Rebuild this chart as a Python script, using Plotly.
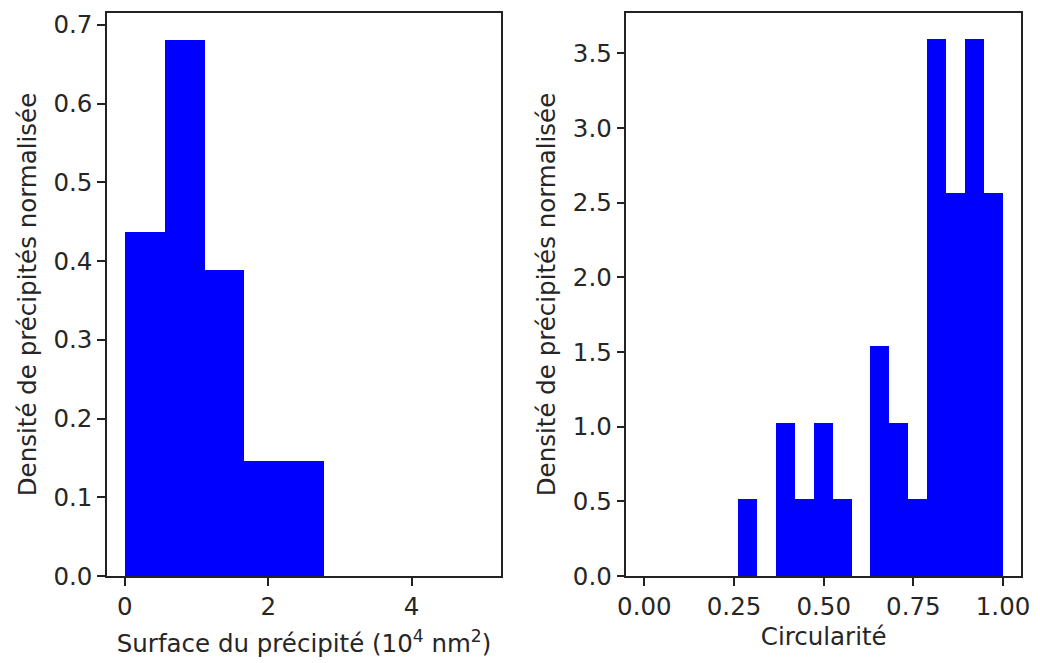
import plotly.graph_objects as go
from plotly.subplots import make_subplots

# Left histogram: precipitate area (10^4 nm^2)
area_edges = [0.0, 0.556, 1.111, 1.667, 2.222, 2.778, 3.333, 3.889, 4.444, 5.0]
area_density = [0.437, 0.681, 0.389, 0.146, 0.146, 0.0, 0.0, 0.0, 0.0]

# Right histogram: circularity
circ_edges = [0.0, 0.0526, 0.1053, 0.1579, 0.2105, 0.2632, 0.3158, 0.3684, 0.4211,
              0.4737, 0.5263, 0.5789, 0.6316, 0.6842, 0.7368, 0.7895, 0.8421,
              0.8947, 0.9474, 1.0]
circ_density = [0, 0, 0, 0, 0, 0.513, 0, 1.027, 0.513, 1.027, 0.513, 0,
                1.540, 1.027, 0.513, 3.594, 2.567, 3.594, 2.567]

left_xticks = [0, 2, 4]
left_yticks = [0.0, 0.1, 0.2, 0.3, 0.4, 0.5, 0.6, 0.7]
right_xticks = [0.0, 0.25, 0.5, 0.75, 1.0]
right_yticks = [0.0, 0.5, 1.0, 1.5, 2.0, 2.5, 3.0, 3.5]


def bars(edges, dens):
    centers = [(a + b) / 2 for a, b in zip(edges[:-1], edges[1:])]
    widths = [b - a for a, b in zip(edges[:-1], edges[1:])]
    return go.Bar(x=centers, y=dens, width=widths, marker=dict(color="#0000ff", line=dict(width=0)),
                  showlegend=False, hoverinfo="skip")


fig = make_subplots(rows=1, cols=2)
fig.add_trace(bars(area_edges, area_density), row=1, col=1)
fig.add_trace(bars(circ_edges, circ_density), row=1, col=2)

font = dict(family="DejaVu Sans", size=24.5, color="#262626")
axis_common = dict(showline=True, linecolor="#222222", linewidth=1.5, mirror=True,
                   ticks="outside", ticklen=8, tickwidth=1.5, tickcolor="#222222",
                   showgrid=False, zeroline=False, tickfont=font)

fig.update_layout(
    width=1040, height=663,
    margin=dict(l=107, r=10, t=10, b=86),
    plot_bgcolor="white", paper_bgcolor="white",
    bargap=0, font=font,
    xaxis=dict(domain=[0, 0.4312], range=[-0.25, 5.25], tickvals=left_xticks,
               ticktext=[str(v) for v in left_xticks],
               title=dict(text="Surface du précipité (10<sup>4</sup> nm<sup>2</sup>)", font=font, standoff=15),
               **axis_common),
    yaxis=dict(range=[0, 0.715], tickvals=left_yticks, ticktext=[f"{v:.1f}" for v in left_yticks],
               title=dict(text="Densité de précipités normalisée", font=font, standoff=10),
               **axis_common),
    xaxis2=dict(domain=[0.5683, 1.0], range=[-0.05, 1.05], tickvals=right_xticks,
                ticktext=[f"{v:.2f}" for v in right_xticks],
                title=dict(text="Circularité", font=font, standoff=8),
                **axis_common),
    yaxis2=dict(range=[0, 3.77], tickvals=right_yticks, ticktext=[f"{v:.1f}" for v in right_yticks],
                title=dict(text="Densité de précipités normalisée", font=font, standoff=10),
                **axis_common),
)

fig.write_html("out.html", config={"displayModeBar": False},
               post_script="document.body.style.margin='0';document.body.style.overflow='hidden';")
